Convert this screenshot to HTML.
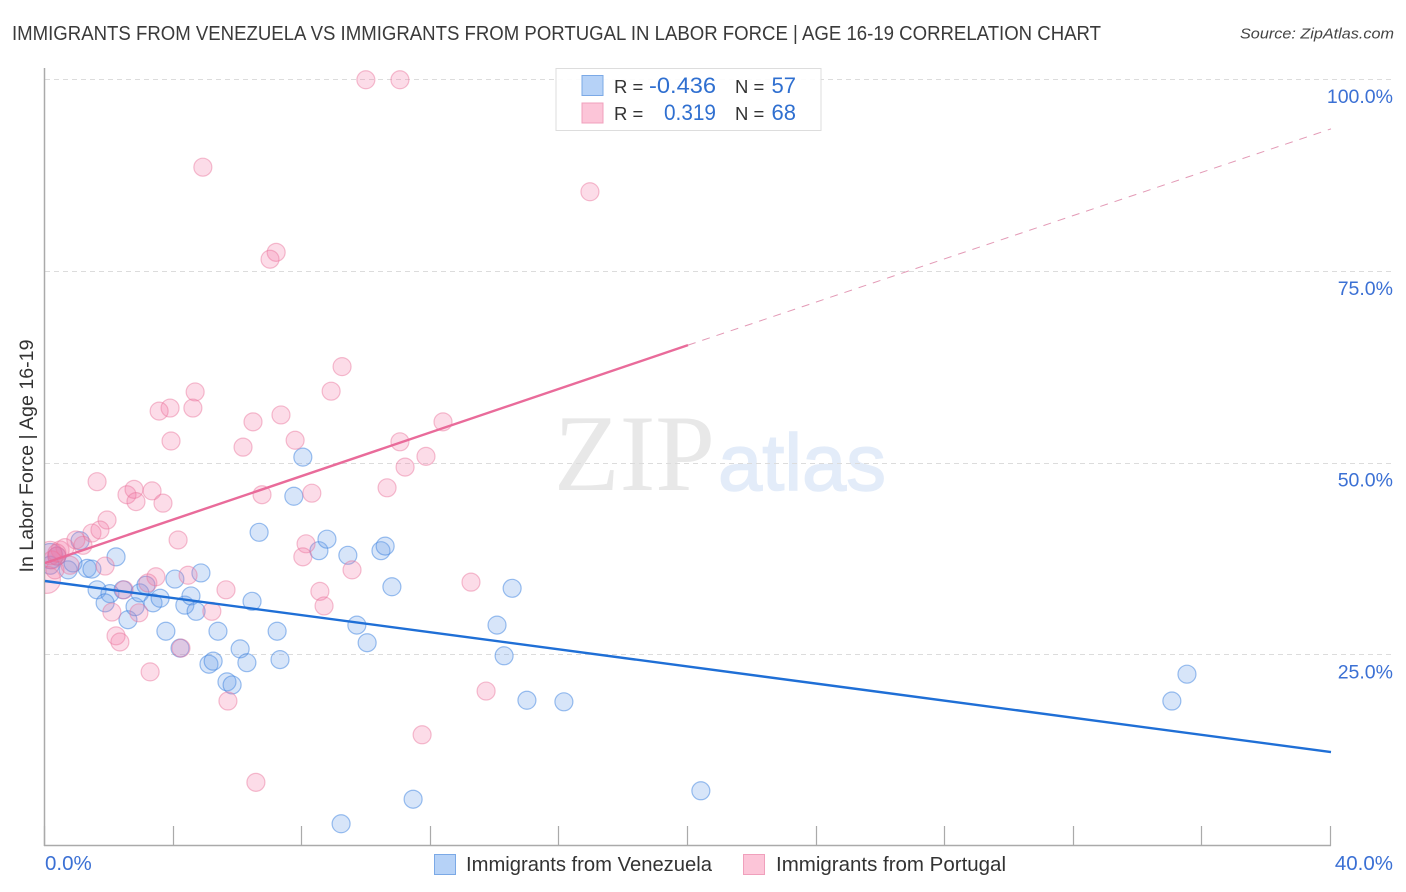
<!DOCTYPE html>
<html>
<head>
<meta charset="utf-8">
<title>Immigrants from Venezuela vs Immigrants from Portugal chart</title>
<style>
html,body{margin:0;padding:0;background:#fff;width:1406px;height:892px;overflow:hidden}
svg{display:block;font-family:"Liberation Sans",sans-serif}
</style>
</head>
<body>
<svg id="chart" width="1406" height="892" viewBox="0 0 1406 892">
  <text x="12" y="40" font-size="20" fill="#3a3a3a" textLength="1089" lengthAdjust="spacingAndGlyphs">IMMIGRANTS FROM VENEZUELA VS IMMIGRANTS FROM PORTUGAL IN LABOR FORCE | AGE 16-19 CORRELATION CHART</text>
  <text x="1394" y="38.500" font-size="15" font-style="italic" fill="#444" text-anchor="end" textLength="154" lengthAdjust="spacingAndGlyphs">Source: ZipAtlas.com</text>

  <text x="554" y="490" font-family="'Liberation Serif',serif" font-size="109" fill="#e8e8e8" textLength="161" lengthAdjust="spacingAndGlyphs">ZIP</text>
  <text x="718" y="490" font-size="80" fill="#e3ecf9" stroke="#e3ecf9" stroke-width="1.5" textLength="168" lengthAdjust="spacingAndGlyphs">atlas</text>

  <g id="grid"></g>
  <g id="axes"></g>
  <g id="points" clip-path="url(#plot-clip)"></g>
  <g id="trends"></g>
  <g id="labels"></g>

  <defs><clipPath id="plot-clip"><rect x="45" y="60" width="1300" height="785"></rect></clipPath></defs>

  <text transform="translate(33,456) rotate(-90)" font-size="19" fill="#333" text-anchor="middle" textLength="233" lengthAdjust="spacingAndGlyphs">In Labor Force | Age 16-19</text>

  <g>
    <rect x="556" y="68.500" width="265" height="62" fill="#fff" fill-opacity="0.9" stroke="#ddd" stroke-width="1"></rect>
    <rect x="582" y="75.500" width="21" height="20" fill="#b6d2f7" stroke="#7ba9e6"></rect>
    <rect x="582" y="103" width="21" height="20" fill="#fcc5d8" stroke="#f0a0bc"></rect>
    <text x="614" y="93" font-size="18.500" fill="#333">R =</text>
    <text x="716" y="93" font-size="22" fill="#2f6fd0" text-anchor="end" textLength="67" lengthAdjust="spacingAndGlyphs">-0.436</text>
    <text x="735" y="93" font-size="18.500" fill="#333">N =</text>
    <text x="796" y="93" font-size="22" fill="#2f6fd0" text-anchor="end">57</text>
    <text x="614" y="120" font-size="18.500" fill="#333">R =</text>
    <text x="716" y="120" font-size="22" fill="#2f6fd0" text-anchor="end" textLength="52" lengthAdjust="spacingAndGlyphs">0.319</text>
    <text x="735" y="120" font-size="18.500" fill="#333">N =</text>
    <text x="796" y="120" font-size="22" fill="#2f6fd0" text-anchor="end">68</text>
  </g>

  <g>
    <rect x="434.500" y="854.500" width="21" height="20" fill="#b6d2f7" stroke="#7ba9e6"></rect>
    <text x="466" y="871" font-size="20" fill="#333" textLength="246" lengthAdjust="spacingAndGlyphs">Immigrants from Venezuela</text>
    <rect x="743.500" y="854.500" width="21" height="20" fill="#fcc5d8" stroke="#f0a0bc"></rect>
    <text x="776" y="871" font-size="20" fill="#333" textLength="230" lengthAdjust="spacingAndGlyphs">Immigrants from Portugal</text>
  </g>
</svg>
<script>
var yTickValues = [25, 50, 75, 100];
var yTickLabels = ["25.0%", "50.0%", "75.0%", "100.0%"];
var xTickValues = [0, 4, 8, 12, 16, 20, 24, 28, 32, 36, 40];
var xEndLabels = ["0.0%", "40.0%"];

var venezuelaX = [0.16,0.37,0.16,0.72,0.87,1.09,1.31,1.46,2.21,1.62,2.02,1.87,2.43,2.58,2.80,2.95,3.14,3.36,3.58,3.76,4.04,4.35,4.54,4.70,4.85,4.20,5.10,5.23,5.38,5.66,5.82,6.07,6.28,6.44,6.66,7.22,7.31,7.74,8.02,8.52,8.77,9.42,9.70,10.02,10.45,10.58,10.79,11.45,9.21,14.06,14.28,14.53,14.99,16.14,20.40,35.05,35.52];
var venezuelaY = [37.8,37.8,36.6,36.0,36.9,39.8,36.2,36.1,37.7,33.4,32.9,31.7,33.4,29.5,31.2,33.0,34.0,31.7,32.3,28.0,34.8,31.4,32.6,30.6,35.6,25.8,23.7,24.1,28.0,21.4,21.0,25.7,23.9,31.9,40.9,28.0,24.3,45.6,50.7,38.5,40.0,37.9,28.8,26.5,38.5,39.1,33.8,6.1,2.9,28.8,24.8,33.6,19.0,18.8,7.2,18.9,22.4];
var venezuelaSize = [1.4,1,1,1,1,1,1,1,1,1,1,1,1,1,1,1,1,1,1,1,1,1,1,1,1,1,1,1,1,1,1,1,1,1,1,1,1,1,1,1,1,1,1,1,1,1,1,1,1,1,1,1,1,1,1,1,1];

var portugalX = [9.98,11.04,4.91,16.95,7.19,7.00,9.24,8.90,4.67,3.89,3.55,4.60,7.34,6.47,12.38,3.92,7.78,6.16,11.04,11.85,11.20,1.62,2.55,2.77,3.33,2.83,3.67,6.75,8.30,10.64,1.93,1.46,1.71,4.14,0.96,1.18,8.12,8.02,9.55,13.25,1.87,3.45,4.45,3.20,5.63,2.46,8.55,8.68,2.08,2.92,5.19,2.21,2.33,4.23,3.27,5.69,13.72,11.73,6.56,0.47,0.62,0.37,0.22,0.06,0.78,0.16,0.31,0.37];
var portugalY = [99.9,99.9,88.5,85.3,77.4,76.5,62.5,59.3,59.2,57.1,56.7,57.1,56.2,55.3,55.3,52.8,52.9,52.0,52.7,50.8,49.4,47.5,45.8,46.5,46.3,44.9,44.7,45.8,46.0,46.7,42.5,40.8,41.2,39.9,39.9,39.2,39.4,37.7,36.0,34.4,36.5,35.1,35.3,34.3,33.4,33.4,33.2,31.3,30.5,30.4,30.6,27.4,26.6,25.8,22.7,18.9,20.2,14.5,8.3,38.6,38.9,37.8,37.3,34.7,36.6,38.2,36.0,38.2];
var portugalSize = [1,1,1,1,1,1,1,1,1,1,1,1,1,1,1,1,1,1,1,1,1,1,1,1,1,1,1,1,1,1,1,1,1,1,1,1,1,1,1,1,1,1,1,1,1,1,1,1,1,1,1,1,1,1,1,1,1,1,1,1,1,1,1,1.5,1,1.3,1,1];

var venezuelaTrendX = [0, 40];
var venezuelaTrendY = [34.55, 12.25];
var portugalTrendX = [0, 20];
var portugalTrendY = [36.9, 65.3];
var portugalExtendX = [20, 40];
var portugalExtendY = [65.3, 93.5];

var NS = "http://www.w3.org/2000/svg";
function xScale(v) { return 45 + v * 32.15; }
function yScale(v) { return 846 - v * 7.67; }
function add(parent, tag, attrs, text) {
  var el = document.createElementNS(NS, tag);
  for (var k in attrs) el.setAttribute(k, attrs[k]);
  if (text !== undefined) el.textContent = text;
  document.getElementById(parent).appendChild(el);
  return el;
}

yTickValues.forEach(function (v, i) {
  var y = Math.round(yScale(v)) + 0.5;
  var line = add("grid", "line", {x1: 45, x2: 1394, y1: y, y2: y, stroke: "#dcdcdc", "stroke-width": 1, "stroke-dasharray": "5 4"});
  
  
  var label = add("labels", "text", {x: 1393, y: yScale(v) + 24, "font-size": 19.5, fill: "#3b70d4", "text-anchor": "end"}, yTickLabels[i]);
  
  
});

var yAxis = add("axes", "line", {x1: 44.5, x2: 44.5, y1: 68, y2: 846, stroke: "#aaa", "stroke-width": 1.5});


var xAxis = add("axes", "line", {x1: 44, x2: 1331, y1: 845.5, y2: 845.5, stroke: "#aaa", "stroke-width": 1.5});


xTickValues.forEach(function (v) {
  var x = Math.round(xScale(v)) - 0.5;
  var tick = add("axes", "line", {x1: x, x2: x, y1: 826, y2: 846, stroke: "#aaa", "stroke-width": 1.2});
  
  
});
var xLabelStart = add("labels", "text", {x: 45, y: 870, "font-size": 20.5, fill: "#3b70d4"}, xEndLabels[0]);


var xLabelEnd = add("labels", "text", {x: 1393, y: 870, "font-size": 20.5, fill: "#3b70d4", "text-anchor": "end"}, xEndLabels[1]);



venezuelaX.forEach(function (v, i) {
  var c = add("points", "circle", {cx: xScale(v), cy: yScale(venezuelaY[i]), r: 9 * venezuelaSize[i], fill: "#6ea0eb", "fill-opacity": 0.28, stroke: "#3b82e0", "stroke-opacity": 0.5, "stroke-width": 1.2});
  
  
});
portugalX.forEach(function (v, i) {
  var c = add("points", "circle", {cx: xScale(v), cy: yScale(portugalY[i]), r: 9 * portugalSize[i], fill: "#f578a5", "fill-opacity": 0.26, stroke: "#e8709a", "stroke-opacity": 0.45, "stroke-width": 1.2});
  
  
});

var t1 = add("trends", "line", {x1: xScale(venezuelaTrendX[0]), y1: yScale(venezuelaTrendY[0]), x2: xScale(venezuelaTrendX[1]), y2: yScale(venezuelaTrendY[1]), stroke: "#1f6fd6", "stroke-width": 2.4});


var t2 = add("trends", "line", {x1: xScale(portugalTrendX[0]), y1: yScale(portugalTrendY[0]), x2: xScale(portugalTrendX[1]), y2: yScale(portugalTrendY[1]), stroke: "#e96b9a", "stroke-width": 2.4});


var t3 = add("trends", "line", {x1: xScale(portugalExtendX[0]), y1: yScale(portugalExtendY[0]), x2: xScale(portugalExtendX[1]), y2: yScale(portugalExtendY[1]), stroke: "#e39ab6", "stroke-width": 1, "stroke-dasharray": "8 7"});


</script>
</body>
</html>
